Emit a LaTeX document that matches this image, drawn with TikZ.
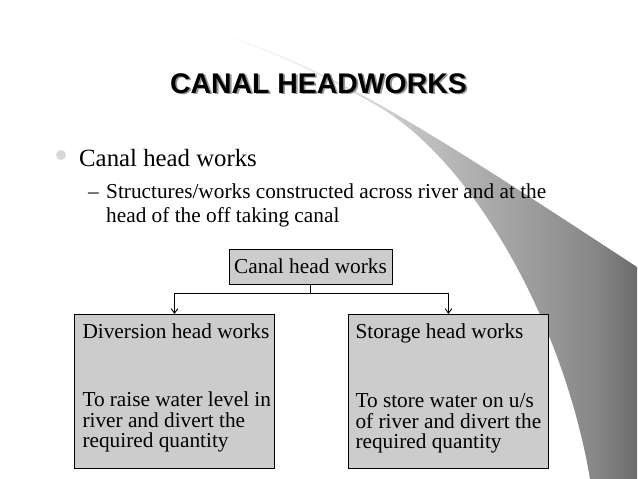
\documentclass[tikz,border=0pt]{standalone}
\usepackage{fontspec}
\setmainfont{Liberation Serif}
\newfontfamily\arialfont{Liberation Sans}
\usetikzlibrary{arrows.meta}
\definecolor{boxgray}{RGB}{204,204,204}
\definecolor{bulletgray}{RGB}{216,216,216}
\definecolor{shadowgray}{RGB}{150,150,150}
\pgfdeclarehorizontalshading{swoosh}{100bp}{rgb(0bp)=(1,1,1); rgb(25bp)=(1,1,1); rgb(36.5bp)=(0.93,0.93,0.93); rgb(48bp)=(0.78,0.78,0.78); rgb(59.5bp)=(0.65,0.65,0.65); rgb(66bp)=(0.58,0.58,0.58); rgb(70.75bp)=(0.52,0.52,0.52); rgb(75bp)=(0.42,0.42,0.42); rgb(100bp)=(0.42,0.42,0.42)}
\newcommand{\shadowtext}[1]{\makebox[0pt][l]{\hspace{1.8pt}\raisebox{-1.8pt}{\textcolor{shadowgray}{#1}}}#1}
\begin{document}
\begin{tikzpicture}[x=1pt,y=-1pt,
  titletext/.style={anchor=base, inner sep=0pt, font=\arialfont\bfseries\fontsize{28.4}{34}\selectfont},
  bodyline/.style={anchor=base west, inner sep=0pt},
  bigfont/.style={font=\fontsize{24.8}{30}\selectfont},
  smallfont/.style={font=\fontsize{21.3}{20.5}\selectfont},
  flowbox/.style={draw=black, line width=1pt, fill=boxgray, font=\fontsize{21.3}{20.5}\selectfont},
  detailbox/.style={flowbox, anchor=north west, inner xsep=3.5pt, inner ysep=0pt, text height=24pt, text depth=130pt},
  conn/.style={draw=black, line width=0.9pt},
  tip/.style={-{Straight Barb[length=4.5pt,width=6.5pt]}}
]
\useasboundingbox (0,0) rectangle (638,479);
\fill[white] (0,0) rectangle (638,479);
% decorative swoosh
\shade[shading=swoosh] (200,28) .. controls (320,60) and (420,125) .. (637,267)
  -- (637,479) -- (590,479) .. controls (565,330) and (480,170) .. (382,108.5)
  .. controls (330,78) and (260,45) .. (200,28) -- cycle;
% title
\node[titletext, text=black] (title) at (318.5,93) {\shadowtext{CANAL HEADWORKS}};
% bullets
\node[circle, fill=bulletgray, minimum size=10pt, inner sep=0pt] (bullet) at (61,155) {};
\node[bodyline, bigfont] (l1) at (79,166) {Canal head works};
\node[bodyline, smallfont] (dash) at (88,198) {–};
\node[bodyline, smallfont] (l2) at (106,198) {Structures/works constructed across river and at the};
\node[bodyline, smallfont] (l3) at (106,222) {head of the off taking canal};
% chart
\node[flowbox, minimum width=163pt, minimum height=35pt, inner sep=0pt] (top) at (310.5,266.5) {Canal head works};
\node[detailbox] (div) at (74,314) {\parbox[t]{193pt}{\leftskip=4.5pt Diversion head works\\[47.5pt]To raise water level in\\river and divert the\\required quantity}};
\node[detailbox] (sto) at (348,314) {\parbox[t]{193pt}{\leftskip=3.5pt Storage head works\\[48.5pt]To store water on u/s\\of river and divert the\\required quantity}};
\draw[conn] (top.south) -- ++(0,9) coordinate (split);
\draw[conn, tip] (split) -| (div.north);
\draw[conn, tip] (split) -| (sto.north);
\end{tikzpicture}
\end{document}
